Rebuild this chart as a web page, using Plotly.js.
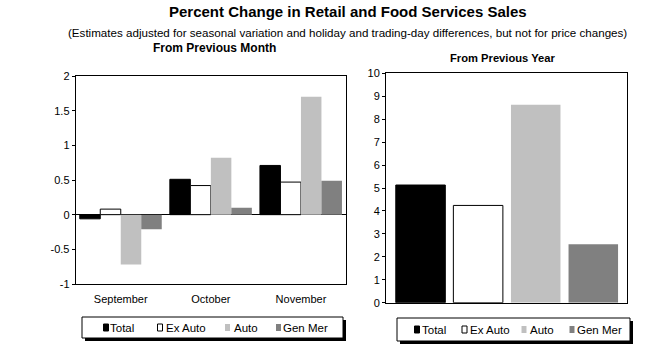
<!DOCTYPE html>
<html>
<head>
<meta charset="utf-8">
<script src="https://cdn.plot.ly/plotly-3.0.1.min.js"></script>
<style>
  html, body { margin: 0; padding: 0; background: #ffffff; }
  #chart { width: 650px; height: 356px; }
</style>
</head>
<body>
<div id="chart"></div>
<script>
// ---- Data ----
const months = ['September', 'October', 'November'];
const seriesNames = ['Total', 'Ex Auto', 'Auto', 'Gen Mer'];
const monthTotal = [-0.06, 0.51, 0.71];
const monthExAuto = [0.08, 0.42, 0.47];
const monthAuto = [-0.72, 0.82, 1.70];
const monthGenMer = [-0.21, 0.10, 0.49];
const yearValues = [5.13, 4.24, 8.63, 2.55];
const monthTickVals = [-1, -0.5, 0, 0.5, 1, 1.5, 2];
const monthTickText = ['-1', '-0.5', '0', '0.5', '1', '1.5', '2'];
const yearTickVals = [0, 1, 2, 3, 4, 5, 6, 7, 8, 9, 10];
const yearTickText = ['0', '1', '2', '3', '4', '5', '6', '7', '8', '9', '10'];

// ---- Styles ----
const W = 650, H = 356;
const FONT = 'Liberation Sans, Arial, Helvetica, sans-serif';
const fills = ['#000000', '#ffffff', '#c0c0c0', '#808080'];
const lineW = [1, 1, 0, 0];
const px = x => x / W;
const py = y => 1 - y / H;

const monthSeries = [monthTotal, monthExAuto, monthAuto, monthGenMer];
const traces = [];
monthSeries.forEach((vals, i) => {
  traces.push({
    type: 'bar', name: seriesNames[i], x: months, y: vals,
    xaxis: 'x', yaxis: 'y',
    marker: { color: fills[i], line: { color: '#000000', width: lineW[i] } },
    showlegend: false, hoverinfo: 'x+y+name'
  });
});
yearValues.forEach((v, i) => {
  traces.push({
    type: 'bar', name: seriesNames[i], x: [seriesNames[i]], y: [v],
    xaxis: 'x2', yaxis: 'y2', offsetgroup: 'year', width: 0.86,
    marker: { color: fills[i], line: { color: '#000000', width: lineW[i] } },
    showlegend: false, hoverinfo: 'y+name'
  });
});

// ---- Legend boxes (drawn) ----
const shapes = [];
const annotations = [];
function legendBox(x0, y0, x1, y1, items) {
  shapes.push({ type: 'rect', xref: 'paper', yref: 'paper',
    x0: px(x0 + 3), x1: px(x1 + 3), y0: py(y1 + 3), y1: py(y0 + 3),
    fillcolor: '#000000', line: { width: 0 } });
  shapes.push({ type: 'rect', xref: 'paper', yref: 'paper',
    x0: px(x0), x1: px(x1), y0: py(y1), y1: py(y0),
    fillcolor: '#ffffff', line: { color: '#000000', width: 1 } });
  const yc = (y0 + y1) / 2;
  items.forEach((it, i) => {
    shapes.push({ type: 'rect', xref: 'paper', yref: 'paper',
      x0: px(it.sx), x1: px(it.sx + 5), y0: py(yc + 3.5), y1: py(yc - 3.5),
      fillcolor: fills[i], line: { color: '#000000', width: lineW[i] } });
    annotations.push({ xref: 'paper', yref: 'paper', x: px(it.tx), y: py(yc),
      xanchor: 'left', yanchor: 'middle', showarrow: false,
      text: seriesNames[i], font: { family: FONT, size: 11.5, color: '#000000' } });
  });
}
legendBox(82, 317, 343, 338, [
  { sx: 103.5, tx: 108 }, { sx: 157.5, tx: 163.5 }, { sx: 225, tx: 231.5 }, { sx: 276, tx: 281 }
]);
legendBox(397, 318, 630, 341, [
  { sx: 414.5, tx: 420 }, { sx: 462, tx: 467.5 }, { sx: 521.5, tx: 527.5 }, { sx: 569.5, tx: 574.5 }
]);

// ---- Titles ----
annotations.push({ xref: 'paper', yref: 'paper', x: px(348), y: py(12), xanchor: 'center', yanchor: 'middle',
  showarrow: false, text: '<b>Percent Change in Retail and Food Services Sales</b>',
  font: { family: FONT, size: 15, color: '#000000' } });
annotations.push({ xref: 'paper', yref: 'paper', x: px(347), y: py(32), xanchor: 'center', yanchor: 'middle',
  showarrow: false, text: '(Estimates adjusted for seasonal variation and holiday and trading-day differences, but not for price changes)',
  font: { family: FONT, size: 11.6, color: '#000000' } });
annotations.push({ xref: 'paper', yref: 'paper', x: px(214), y: py(48), xanchor: 'center', yanchor: 'middle',
  showarrow: false, text: '<b>From Previous Month</b>',
  font: { family: FONT, size: 12, color: '#000000' } });
annotations.push({ xref: 'paper', yref: 'paper', x: px(503), y: py(58), xanchor: 'center', yanchor: 'middle',
  showarrow: false, text: '<b>From Previous Year</b>',
  font: { family: FONT, size: 11.2, color: '#000000' } });

const axisCommon = {
  showline: true, mirror: true, linecolor: '#000000', linewidth: 1,
  showgrid: false, fixedrange: true,
  tickfont: { family: FONT, size: 11, color: '#000000' }
};

const layout = {
  width: W, height: H,
  margin: { l: 0, r: 0, t: 0, b: 0 },
  paper_bgcolor: '#ffffff', plot_bgcolor: '#ffffff',
  barmode: 'group', bargap: 0.09, bargroupgap: 0,
  showlegend: false,
  font: { family: FONT, color: '#000000' },
  xaxis: Object.assign({}, axisCommon, {
    domain: [px(75.7), px(346)], anchor: 'y', type: 'category',
    ticks: '', ticklabelstandoff: 5, zeroline: false
  }),
  yaxis: Object.assign({}, axisCommon, {
    domain: [py(284), py(76)], anchor: 'x', range: [-1, 2],
    tickvals: monthTickVals, ticktext: monthTickText,
    ticks: 'outside', ticklen: 3, tickcolor: '#000000',
    zeroline: true, zerolinecolor: '#000000', zerolinewidth: 1
  }),
  xaxis2: Object.assign({}, axisCommon, {
    domain: [px(386), px(626.7)], anchor: 'y2', type: 'category',
    range: [-0.6, 3.58], showticklabels: false, ticks: '', zeroline: false
  }),
  yaxis2: Object.assign({}, axisCommon, {
    domain: [py(302.7), py(73.3)], anchor: 'x2', range: [0, 10],
    tickvals: yearTickVals, ticktext: yearTickText,
    ticks: 'outside', ticklen: 3, tickcolor: '#000000', zeroline: false
  }),
  shapes: shapes,
  annotations: annotations
};

Plotly.newPlot('chart', traces, layout, { displayModeBar: false, staticPlot: true });
</script>
</body>
</html>
